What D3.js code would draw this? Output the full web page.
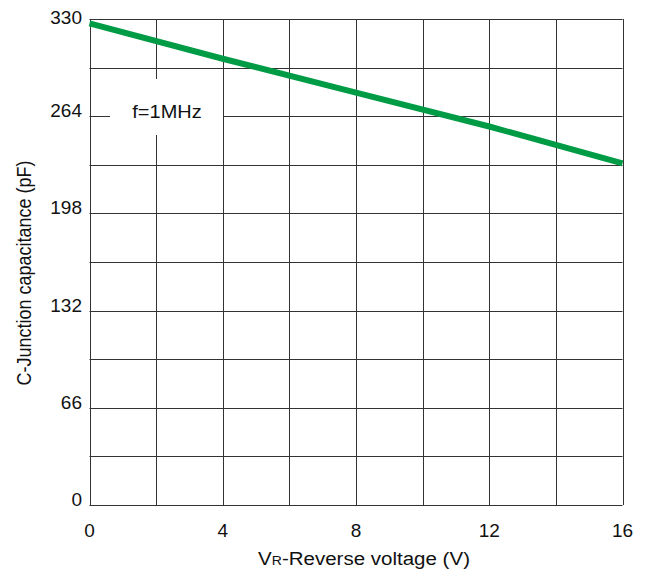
<!DOCTYPE html>
<html><head><meta charset="utf-8">
<script src="https://cdn.jsdelivr.net/npm/d3@7"></script>
<style>body{margin:0;background:#fff}svg{display:block}text{font-family:"Liberation Sans",Arial,sans-serif;fill:#111}</style>
</head><body><svg id="c" width="653" height="573"></svg>
<script>
const voltage = [0, 4, 8, 12, 16];
const capacitance = [327, 303, 280, 257, 232];
const xTicks = [0, 4, 8, 12, 16];
const yTicks = [0, 66, 132, 198, 264, 330];
const xGrid = d3.range(0, 17, 2);
const yGrid = d3.range(0, 331, 33);
const xTitle = ["V", "R", "-Reverse voltage (V)"];
const yTitle = "C-Junction capacitance (pF)";
const note = "f=1MHz";

const svg = d3.select("#c");
const L = 89.5, R = 622.5, T = 19, B = 505;
const x = d3.scaleLinear().domain([0, 16]).range([L, R]);
const y = d3.scaleLinear().domain([0, 330]).range([B, T]);

const g = svg.append("g");
g.selectAll("line.vx").data(xGrid).join("line")
  .attr("x1", d => Math.round(x(d)) + 0.5).attr("x2", d => Math.round(x(d)) + 0.5)
  .attr("y1", T).attr("y2", B).attr("stroke", "#333").attr("stroke-width", 1);
g.selectAll("line.hy").data(yGrid).join("line")
  .attr("y1", d => Math.round(y(d)) + 0.5).attr("y2", d => Math.round(y(d)) + 0.5)
  .attr("x1", L).attr("x2", R).attr("stroke", "#333").attr("stroke-width", 1);

// note box
svg.append("rect").attr("x", 110).attr("y", 79).attr("width", 113).attr("height", 56).attr("fill", "#fff");
svg.append("text").attr("transform", "translate(167,118) scale(1.08,1)").attr("text-anchor", "middle")
  .attr("font-size", 18.5).text(note);

// data line
svg.append("path").datum(voltage.map((v, i) => [v, capacitance[i]]))
  .attr("d", d3.line().x(d => x(d[0])).y(d => y(d[1])))
  .attr("fill", "none").attr("stroke", "#009b45").attr("stroke-width", 6);

// y tick labels
svg.selectAll("text.yt").data(yTicks).join("text")
  .attr("x", 82).attr("y", d => Math.max(y(d) + 1, 23.5)).attr("text-anchor", "end")
  .attr("font-size", 19).text(d => d);
// x tick labels
svg.selectAll("text.xt").data(xTicks).join("text")
  .attr("x", d => x(d)).attr("y", 537).attr("text-anchor", "middle")
  .attr("font-size", 19).text(d => d);

// x title
const xt = svg.append("text").attr("transform", "translate(364,565) scale(1.08,1)").attr("text-anchor", "middle")
  .attr("font-size", 19);
xt.append("tspan").text(xTitle[0]);
xt.append("tspan").attr("font-size", 13).text(xTitle[1]);
xt.append("tspan").text(xTitle[2]);

// y title
svg.append("text").attr("transform", "translate(31,273) scale(1.1,1) rotate(-90)")
  .attr("text-anchor", "middle").attr("font-size", 18).text(yTitle);
</script></body></html>
